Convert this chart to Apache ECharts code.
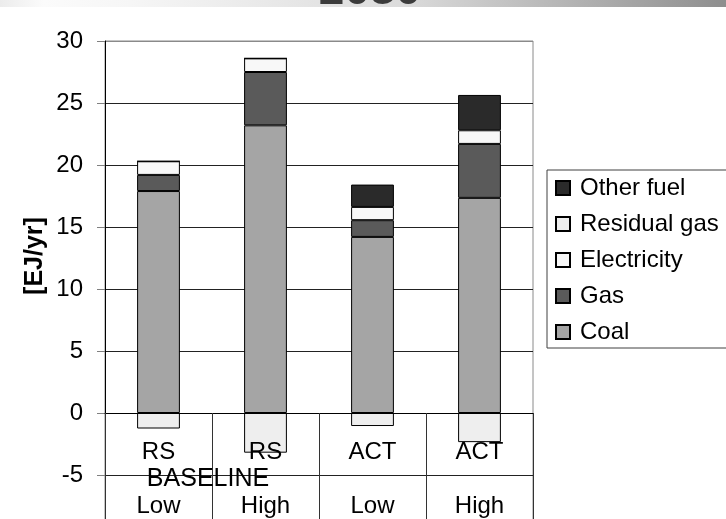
<!DOCTYPE html>
<html>
<head>
<meta charset="utf-8">
<script src="https://cdn.jsdelivr.net/npm/echarts@6/dist/echarts.min.js"></script>
<style>
html,body{margin:0;padding:0;background:#fff;}
#chart{width:726px;height:519px;}
</style>
</head>
<body>
<div id="chart"></div>
<script>
// ---- data ----
const categories = ['RS BASELINE Low', 'RS BASELINE High', 'ACT Low', 'ACT High'];
const scenarioLabels = ['RS', 'RS', 'ACT', 'ACT'];
const levelLabels = ['Low', 'High', 'Low', 'High'];
const groupLabel = 'BASELINE';
const titleText = '2030';
const yAxisName = '[EJ/yr]';

const coal        = [17.9, 23.2, 14.2, 17.35];
const gas         = [1.3, 4.3, 1.35, 4.35];
const electricity = [1.1, 1.1, 1.07, 1.1];
const otherFuel   = [0, 0, 1.8, 2.85];
const residualGas = [-1.25, -3.2, -1.05, -2.35];

const legendOrder = ['Other fuel', 'Residual gas', 'Electricity', 'Gas', 'Coal'];
const yTicks = { min: -10, max: 30, interval: 5 };

// ---- chart ----
const FONT = 'Liberation Sans, Arial, sans-serif';
const chart = echarts.init(document.getElementById('chart'), null, { renderer: 'canvas' });

function barSeries(name, data, color) {
  return {
    name: name, type: 'bar', stack: 'total', data: data, barWidth: '40%',
    itemStyle: { color: color, borderColor: '#000', borderWidth: 1 },
    emphasis: { disabled: true }
  };
}

const option = {
  animation: false,
  backgroundColor: '#fff',
  textStyle: { fontFamily: FONT },
  grid: { left: 105, top: 41, width: 428, height: 496, outerBoundsMode: 'none', containLabel: false, show: true, borderColor: '#8a8a8a', borderWidth: 1, backgroundColor: 'transparent' },
  legend: {
    orient: 'vertical', left: 547, top: 170,
    data: legendOrder, icon: 'rect', itemWidth: 14, itemHeight: 14, itemGap: 12,
    padding: [6, 10, 4, 8], borderColor: '#404040', borderWidth: 1, backgroundColor: '#fff',
    textStyle: { fontSize: 24, color: '#000', fontFamily: FONT, padding: [0, 0, 0, 5] }
  },
  xAxis: {
    type: 'category', data: categories, z: 3,
    axisLine: { onZero: true, lineStyle: { color: '#000', width: 1 } },
    axisTick: { show: true, alignWithLabel: false, length: 124, lineStyle: { color: '#333' } },
    axisLabel: {
      interval: 0, margin: -98, fontSize: 24, lineHeight: 27, color: '#000', fontFamily: FONT,
      formatter: function (v, i) { return scenarioLabels[i] + '\n\n' + levelLabels[i]; }
    },
    splitLine: { show: false }
  },
  yAxis: {
    type: 'value', min: yTicks.min, max: yTicks.max, interval: yTicks.interval,
    axisLine: { show: true, lineStyle: { color: '#000', width: 1 } },
    axisTick: { show: true, length: 8, lineStyle: { color: '#808080' } },
    axisLabel: { fontSize: 24, color: '#000', margin: 22, fontFamily: FONT },
    splitLine: { show: true, lineStyle: { width: 1, color: ['#222', '#222', '#222', '#222', '#222', '#222', '#222', '#222', '#8a8a8a'] } }
  },
  series: [
    barSeries('Coal', coal, '#a5a5a5'),
    barSeries('Gas', gas, '#5a5a5a'),
    barSeries('Electricity', electricity, '#f8f8f8'),
    barSeries('Other fuel', otherFuel, '#2a2a2a'),
    barSeries('Residual gas', residualGas, '#eeeeee')
  ],
  graphic: [
    {
      type: 'rect', left: 0, top: 0, z: 0,
      shape: { width: 726, height: 7 },
      style: {
        fill: new echarts.graphic.LinearGradient(0, 0, 1, 0, [
          { offset: 0, color: '#ececec' },
          { offset: 0.06, color: '#fbfbfb' },
          { offset: 0.18, color: '#f6f6f6' },
          { offset: 0.55, color: '#dcdcdc' },
          { offset: 1, color: '#8e8e8e' }
        ])
      }
    },
    {
      type: 'text', x: 370, y: 14, z: 10,
      style: { text: titleText, fontSize: 46, fontWeight: 'bold', fontFamily: FONT, fill: '#3c3c3c', align: 'center', verticalAlign: 'bottom' }
    },
    {
      type: 'text', x: 35, y: 256, rotation: Math.PI / 2, z: 10,
      style: { text: yAxisName, fontSize: 25, fontWeight: 'bold', fontFamily: FONT, fill: '#000', align: 'center', verticalAlign: 'middle' }
    },
    {
      type: 'text', x: 208, y: 479, z: 10,
      style: { text: groupLabel, fontSize: 25, fontFamily: FONT, fill: '#000', align: 'center', verticalAlign: 'middle' }
    }
  ]
};
chart.setOption(option);
</script>
</body>
</html>
